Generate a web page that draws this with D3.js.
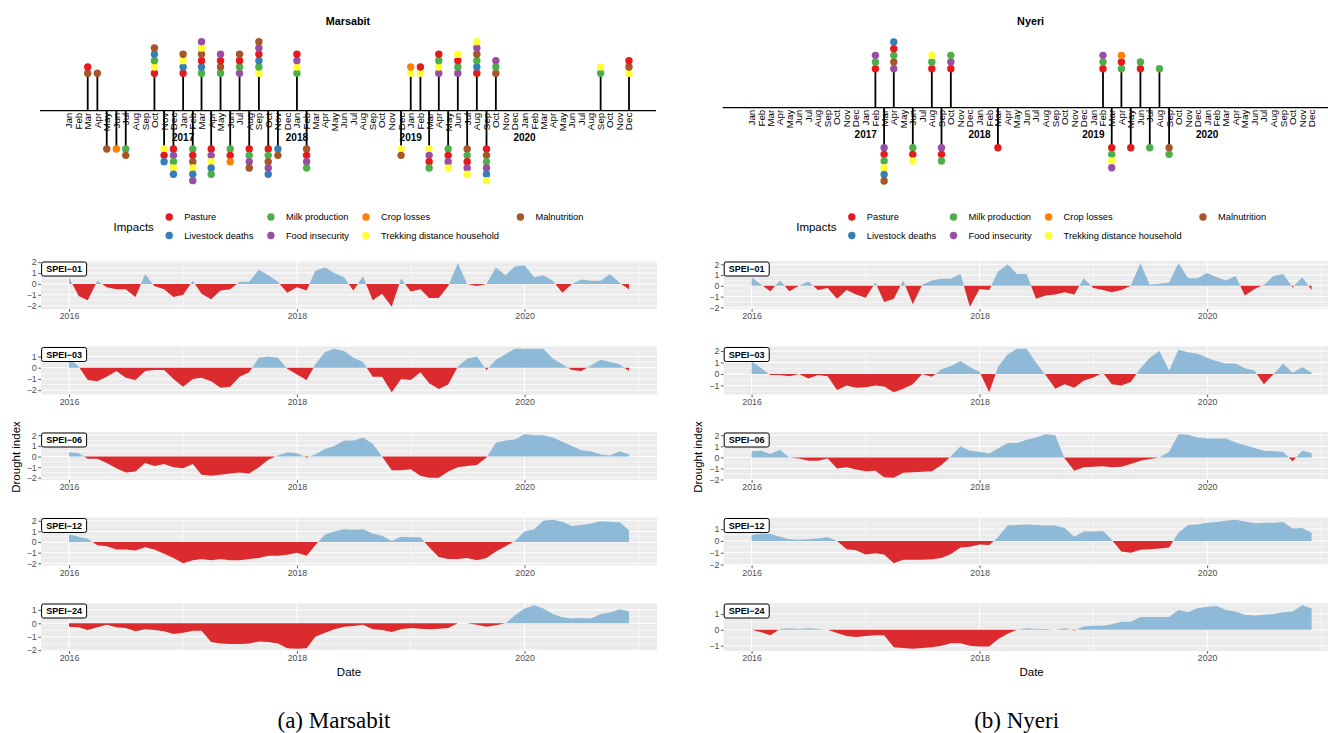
<!DOCTYPE html>
<html>
<head>
<meta charset="utf-8">
<script src="https://cdn.jsdelivr.net/npm/d3@7"></script>
<style>
  body { margin: 0; background: #fff; }
  svg { display: block; font-family: "Liberation Sans", Arial, Helvetica, sans-serif; }
</style>
</head>
<body>
<svg id="chart" width="1328" height="733"></svg>
<script>
// ---- Data ----
const monthLabels = ["Jan","Feb","Mar","Apr","May","Jun","Jul","Aug","Sep","Oct","Nov","Dec"];
const yearLabels = [2017, 2018, 2019, 2020];
const speiTickYears = [2016, 2018, 2020];
const speiMinorYears = [2015, 2017, 2019, 2021];

// impact codes, legend order
const impactCodes  = ["P", "L", "M", "F", "C", "T", "N"];
const impactNames  = ["Pasture", "Livestock deaths", "Milk production", "Food insecurity",
                      "Crop losses", "Trekking distance household", "Malnutrition"];
const impactColors = ["#E41A1C", "#377EB8", "#4DAF4A", "#984EA3", "#FF7F00", "#FFFF33", "#A65628"];

// events above the line (codes listed from the line outwards)
const marsabitUp = [
  ["2016-03","NP"], ["2016-04","N"], ["2016-10","PTMLN"], ["2017-01","PLTN"],
  ["2017-03","MLPNTF"], ["2017-05","MNPF"], ["2017-07","FMPN"], ["2017-09","TMLPFN"],
  ["2018-01","MTFP"], ["2019-01","TC"], ["2019-02","TP"], ["2019-04","FTMP"],
  ["2019-06","FMPT"], ["2019-08","PLMNFT"], ["2019-10","NMF"], ["2020-09","MT"],
  ["2020-12","TNP"]
];
// events below the line
const marsabitDown = [
  ["2016-05","N"], ["2016-06","C"], ["2016-07","MN"], ["2016-11","TPL"],
  ["2016-12","PFMTL"], ["2017-02","MPNTLF"], ["2017-04","PFTLM"], ["2017-06","MPC"],
  ["2017-08","PMFN"], ["2017-10","PMNFL"], ["2017-11","LN"], ["2018-02","NPFM"],
  ["2018-12","TN"], ["2019-03","TFPM"], ["2019-05","MPFT"], ["2019-07","NMPFT"],
  ["2019-09","PNMFLT"]
];
const nyeriUp = [
  ["2017-02","PMF"], ["2017-04","FNMPL"], ["2017-08","PMT"], ["2017-10","PFM"],
  ["2019-02","PMF"], ["2019-04","MPC"], ["2019-06","PM"], ["2019-08","M"]
];
const nyeriDown = [
  ["2017-03","FPMTLN"], ["2017-06","MPT"], ["2017-09","FPM"], ["2018-03","P"],
  ["2019-03","PMTF"], ["2019-05","P"], ["2019-07","M"], ["2019-09","NM"]
];

const speiLabels = ["SPEI\u221201", "SPEI\u221203", "SPEI\u221206", "SPEI\u221212", "SPEI\u221224"];

// monthly values Jan 2016 - Dec 2020
const marsabitSpei01 = [0.6,-1.1,-1.5,0.3,-0.3,-0.5,-0.5,-1.2,0.9,-0.2,-0.5,-1.2,
  -1.0,0.3,-0.9,-1.4,-0.6,-0.5,0.2,0.2,1.3,0.8,0.2,-0.8,
  -0.3,-0.6,1.2,1.5,1.0,0.6,-0.6,0.7,-1.5,-0.9,-2.1,0.5,
  -0.7,-0.5,-1.3,-1.3,-0.2,1.9,0.0,-0.2,0.0,1.5,0.8,1.6,
  1.7,0.6,0.8,0.3,-0.8,0.0,0.4,0.3,0.3,0.9,0.1,-0.5];
const marsabitSpei03 = [0.85,0.1,-1.1,-1.2,-0.8,-0.3,-0.9,-1.1,-0.3,-0.2,-0.2,-1.0,
  -1.7,-1.0,-0.9,-1.2,-1.8,-1.7,-0.8,-0.4,0.9,1.0,0.9,-0.1,
  -0.6,-1.1,0.3,1.4,1.7,1.5,0.9,0.5,-0.8,-0.8,-2.2,-1.0,
  -1.1,-0.4,-1.4,-1.9,-1.5,0.1,0.8,1.0,-0.2,0.7,1.2,1.7,
  1.7,1.7,1.7,0.8,0.3,-0.2,-0.3,0.2,0.7,0.5,0.3,-0.3];
const marsabitSpei06 = [0.4,0.3,-0.2,-0.2,-0.6,-1.1,-1.5,-1.4,-0.6,-0.9,-0.7,-1.0,
  -1.1,-0.7,-1.7,-1.8,-1.7,-1.6,-1.5,-1.6,-1.0,-0.3,0.1,0.4,
  0.3,-0.1,0.2,0.7,1.0,1.5,1.5,1.8,1.2,0.0,-1.3,-1.3,
  -1.2,-1.8,-2.0,-2.0,-1.4,-1.0,-0.9,-0.8,-0.1,1.3,1.5,1.6,
  2.1,2.0,2.0,1.8,1.4,1.0,0.6,0.5,0.2,0.1,0.5,0.2];
const marsabitSpei12 = [0.7,0.5,0.3,-0.3,-0.4,-0.7,-0.7,-0.8,-0.5,-0.7,-1.1,-1.5,
  -2.0,-1.7,-1.6,-1.7,-1.6,-1.7,-1.7,-1.6,-1.5,-1.3,-1.3,-1.2,
  -1.0,-1.3,-0.3,0.7,1.0,1.2,1.15,1.2,0.8,0.6,0.1,0.5,
  0.45,0.45,-0.5,-1.4,-1.6,-1.6,-1.5,-1.7,-1.5,-0.9,-0.4,0.1,
  1.0,1.2,2.0,2.1,1.9,1.5,1.6,1.75,1.95,1.9,1.85,1.1];
const marsabitSpei24 = [-0.25,-0.3,-0.5,-0.3,-0.1,-0.3,-0.35,-0.6,-0.45,-0.5,-0.6,-0.8,
  -0.7,-0.55,-0.55,-1.4,-1.5,-1.55,-1.55,-1.5,-1.35,-1.4,-1.5,-1.85,
  -1.9,-1.85,-1.0,-0.7,-0.45,-0.25,-0.2,-0.1,-0.45,-0.5,-0.65,-0.45,
  -0.35,-0.4,-0.45,-0.4,-0.35,0.0,0.0,-0.1,-0.25,-0.15,0.0,0.6,
  1.1,1.35,1.1,0.7,0.45,0.35,0.4,0.35,0.7,0.8,1.05,0.9];

const nyeriSpei01 = [0.8,0.1,-0.5,0.5,-0.5,0.0,0.4,-0.4,-0.2,-1.2,-0.4,-0.8,
  -1.1,0.3,-1.5,-1.2,0.5,-1.7,0.1,0.5,0.65,0.65,1.1,-1.95,
  -0.3,-0.4,1.3,2.0,1.1,1.1,-1.2,-0.9,-0.8,-0.6,-0.8,0.7,
  -0.2,-0.4,-0.6,-0.4,0.0,2.1,0.1,0.2,0.3,2.1,0.7,0.7,
  1.2,0.8,0.5,0.9,-0.9,-0.3,0.1,0.9,1.1,-0.15,0.8,-0.4];
const nyeriSpei03 = [1.1,0.5,-0.1,-0.1,-0.2,0.0,-0.4,-0.1,-0.2,-1.4,-1.0,-1.2,
  -1.15,-1.0,-1.1,-1.6,-1.3,-0.9,0.0,-0.25,0.4,0.7,1.1,0.6,
  0.2,-1.6,0.6,1.7,2.2,2.2,1.0,-0.1,-1.3,-0.9,-1.2,-0.6,
  -0.3,0.1,-0.9,-1.0,-0.7,0.5,1.4,2.0,0.3,2.1,1.9,1.75,
  1.4,1.1,0.9,0.9,0.5,0.3,-0.9,0.0,0.9,0.1,0.6,0.1];
const nyeriSpei06 = [0.55,0.6,0.3,0.7,0.0,-0.1,-0.3,-0.3,-0.1,-1.0,-0.9,-1.1,
  -1.25,-1.2,-1.8,-1.85,-1.4,-1.35,-1.3,-1.25,-0.7,0.1,1.0,0.6,
  0.5,0.35,0.8,1.3,1.3,1.6,1.8,2.1,2.0,-0.1,-1.2,-0.9,
  -0.85,-0.8,-0.9,-0.85,-0.6,-0.3,-0.15,0.0,0.5,2.1,2.05,1.8,
  1.7,1.7,1.7,1.35,1.1,0.85,0.6,0.55,0.5,-0.35,0.6,0.4];
const nyeriSpei12 = [0.5,0.6,0.6,0.35,0.15,0.1,0.15,0.2,0.3,0.0,-0.7,-0.8,
  -1.15,-1.05,-1.15,-1.9,-1.6,-1.6,-1.6,-1.55,-1.45,-1.1,-0.55,-0.5,
  -0.3,-0.35,0.3,1.3,1.35,1.4,1.35,1.3,1.3,1.1,0.35,0.8,
  0.8,0.85,0.1,-0.9,-1.0,-0.75,-0.7,-0.65,-0.55,0.7,1.35,1.4,
  1.55,1.6,1.7,1.8,1.65,1.5,1.55,1.55,1.6,1.05,1.1,0.7];
const nyeriSpei24 = [0.0,-0.15,-0.35,0.05,0.1,0.05,0.1,0.05,0.0,-0.2,-0.4,-0.45,
  -0.4,-0.35,-0.35,-1.1,-1.15,-1.2,-1.15,-1.1,-1.0,-0.85,-0.85,-1.0,
  -1.05,-1.05,-0.6,-0.25,0.0,0.1,0.05,0.05,0.0,0.1,-0.05,0.2,
  0.25,0.25,0.35,0.5,0.5,0.8,0.8,0.8,0.8,1.25,1.1,1.35,
  1.45,1.5,1.25,1.15,0.95,0.9,0.95,1.0,1.1,1.15,1.55,1.35];

// ---- Layout ----
const POS_COLOR = "#8ebad7";
const NEG_COLOR = "#db2b2e";
const DOT_R = 3.7;
const PANEL_TOPS = [261, 346.5, 432, 517.5, 603];
const PANEL_H = 48;

const regions = [
  { title: "Marsabit", caption: "(a) Marsabit", dx: 0,
    axisY: 110.7, upY: 73.3, downY: 149, step: 6.33,
    up: marsabitUp, down: marsabitDown,
    spei: [marsabitSpei01, marsabitSpei03, marsabitSpei06, marsabitSpei12, marsabitSpei24] },
  { title: "Nyeri", caption: "(b) Nyeri", dx: 682.6,
    axisY: 107.7, upY: 68.7, downY: 147.7, step: 6.67,
    up: nyeriUp, down: nyeriDown,
    spei: [nyeriSpei01, nyeriSpei03, nyeriSpei06, nyeriSpei12, nyeriSpei24] }
];

const svg = d3.select("#chart");
const parseMonth = d3.timeParse("%Y-%m");
const firstMonth = new Date(2016, 0, 1);
const lastMonth = new Date(2020, 11, 1);
const monthDates = d3.timeMonth.range(firstMonth, d3.timeMonth.offset(lastMonth, 1));
const pad = (lastMonth - firstMonth) * 0.05;
const colorOf = d3.scaleOrdinal().domain(impactCodes).range(impactColors);

regions.forEach(r => {
  const g = svg.append("g");
  const x = d3.scaleTime()
      .domain([new Date(+firstMonth - pad), new Date(+lastMonth + pad)])
      .range([41 + r.dx, 657 + r.dx]);

  // Title
  g.append("text")
      .attr("x", 348 + r.dx).attr("y", 25)
      .attr("text-anchor", "middle")
      .attr("font-weight", "bold").attr("font-size", 10.8)
      .text(r.title);

  // Timeline axis
  g.append("line")
      .attr("x1", 40 + r.dx).attr("x2", 656 + r.dx)
      .attr("y1", r.axisY).attr("y2", r.axisY)
      .attr("stroke", "#000").attr("stroke-width", 1.2);

  g.append("g").selectAll("text")
    .data(monthDates)
    .enter().append("text")
      .attr("transform", d => `translate(${x(d)},${r.axisY + 2}) rotate(-90)`)
      .attr("text-anchor", "end")
      .attr("dy", "0.35em")
      .attr("font-size", 9.8)
      .text(d => monthLabels[d.getMonth()]);

  g.append("g").selectAll("text")
    .data(yearLabels)
    .enter().append("text")
      .attr("x", d => x(new Date(d, 0, 1)))
      .attr("y", r.axisY + 30.5)
      .attr("text-anchor", "middle")
      .attr("font-weight", "bold").attr("font-size", 10)
      .text(d => d);

  // Stems and dots
  const events = r.up.map(e => ({ date: parseMonth(e[0]), codes: e[1].split(""), dir: -1 }))
    .concat(r.down.map(e => ({ date: parseMonth(e[0]), codes: e[1].split(""), dir: 1 })));

  g.append("g").selectAll("line")
    .data(events)
    .enter().append("line")
      .attr("x1", d => x(d.date)).attr("x2", d => x(d.date))
      .attr("y1", r.axisY)
      .attr("y2", d => d.dir < 0 ? r.upY : r.downY)
      .attr("stroke", "#000").attr("stroke-width", 1.8);

  const dots = [];
  events.forEach(e => e.codes.forEach((c, i) => {
    dots.push({ date: e.date, code: c,
      y: e.dir < 0 ? r.upY - i * r.step : r.downY + i * r.step });
  }));
  g.append("g").selectAll("circle")
    .data(dots)
    .enter().append("circle")
      .attr("cx", d => x(d.date)).attr("cy", d => d.y)
      .attr("r", DOT_R)
      .attr("fill", d => colorOf(d.code));

  // Legend
  const lg = g.append("g");
  lg.append("text")
      .attr("x", 113.6 + r.dx).attr("y", 230.6)
      .attr("font-size", 11.5)
      .text("Impacts");
  const colX = [169.2, 270.9, 366, 520.4];
  const rowY = [217, 235.5];
  impactCodes.forEach((c, i) => {
    const cx = colX[Math.floor(i / 2)] + r.dx, cy = rowY[i % 2];
    lg.append("circle").attr("cx", cx).attr("cy", cy).attr("r", DOT_R).attr("fill", colorOf(c));
    lg.append("text")
        .attr("x", cx + 15).attr("y", cy + 3.3)
        .attr("font-size", 9.3)
        .text(impactNames[i]);
  });

  // SPEI panels
  r.spei.forEach((values, k) => {
    const top = PANEL_TOPS[k], bottom = top + PANEL_H;
    const left = 41 + r.dx, right = 657 + r.dx;
    const ext = d3.extent(values);
    const span = ext[1] - ext[0];
    const y = d3.scaleLinear()
        .domain([ext[0] - 0.05 * span, ext[1] + 0.05 * span])
        .range([bottom, top]);
    const [lo, hi] = y.domain();
    const major = d3.range(Math.ceil(lo), Math.floor(hi) + 1);
    const minor = major.map(t => t + 0.5).concat([major[0] - 0.5]).filter(t => t > lo && t < hi);

    const p = g.append("g");
    p.append("rect")
        .attr("x", left).attr("y", top)
        .attr("width", right - left).attr("height", PANEL_H)
        .attr("fill", "#EBEBEB");

    // grid
    p.append("g").selectAll("line")
      .data(minor)
      .enter().append("line")
        .attr("x1", left).attr("x2", right)
        .attr("y1", d => y(d)).attr("y2", d => y(d))
        .attr("stroke", "#fff").attr("stroke-width", 0.5);
    p.append("g").selectAll("line")
      .data(speiMinorYears.map(v => new Date(v, 0, 1)).filter(d => x(d) > left && x(d) < right))
      .enter().append("line")
        .attr("x1", d => x(d)).attr("x2", d => x(d))
        .attr("y1", top).attr("y2", bottom)
        .attr("stroke", "#fff").attr("stroke-width", 0.5);
    p.append("g").selectAll("line")
      .data(major)
      .enter().append("line")
        .attr("x1", left).attr("x2", right)
        .attr("y1", d => y(d)).attr("y2", d => y(d))
        .attr("stroke", "#fff").attr("stroke-width", 1);
    p.append("g").selectAll("line")
      .data(speiTickYears.map(v => new Date(v, 0, 1)))
      .enter().append("line")
        .attr("x1", d => x(d)).attr("x2", d => x(d))
        .attr("y1", top).attr("y2", bottom)
        .attr("stroke", "#fff").attr("stroke-width", 1);

    // points with zero crossings
    const pts = [];
    values.forEach((v, i) => {
      const d = monthDates[i];
      if (i > 0) {
        const pv = values[i - 1];
        if (pv * v < 0) {
          const pd = monthDates[i - 1];
          const f = pv / (pv - v);
          pts.push({ date: new Date(+pd + (d - pd) * f), v: 0 });
        }
      }
      pts.push({ date: d, v: v });
    });

    p.append("path")
        .datum(pts)
        .attr("fill", POS_COLOR)
        .attr("d", d3.area().x(d => x(d.date)).y0(y(0)).y1(d => y(Math.max(d.v, 0))));
    p.append("path")
        .datum(pts)
        .attr("fill", NEG_COLOR)
        .attr("d", d3.area().x(d => x(d.date)).y0(y(0)).y1(d => y(Math.min(d.v, 0))));

    // axes
    const ya = p.append("g")
        .attr("transform", `translate(${left},0)`)
        .call(d3.axisLeft(y).tickValues(major).tickSize(2.75).tickPadding(1.5).tickFormat(d3.format("d")));
    const xa = p.append("g")
        .attr("transform", `translate(0,${bottom})`)
        .call(d3.axisBottom(x).tickValues(speiTickYears.map(v => new Date(v, 0, 1)))
          .tickSize(2.75).tickPadding(1.5).tickFormat(d3.timeFormat("%Y")));
    [ya, xa].forEach(a => {
      a.select(".domain").remove();
      a.selectAll(".tick line").attr("stroke", "#333").attr("stroke-width", 0.8);
      a.selectAll(".tick text")
          .attr("fill", "#4D4D4D")
          .attr("font-size", 8.8)
          .attr("font-family", "Liberation Sans, Arial, sans-serif");
    });

    // facet label
    p.append("rect")
        .attr("x", left + 0.6).attr("y", top + 1)
        .attr("width", 45).attr("height", 14).attr("rx", 2)
        .attr("fill", "#fff").attr("stroke", "#000").attr("stroke-width", 1);
    p.append("text")
        .attr("x", left + 23.1).attr("y", top + 11.3)
        .attr("text-anchor", "middle")
        .attr("font-weight", "bold").attr("font-size", 9)
        .text(speiLabels[k]);
  });

  // axis titles
  g.append("text")
      .attr("transform", `translate(${15.5 + r.dx},457) rotate(-90)`)
      .attr("text-anchor", "middle")
      .attr("dy", "0.35em")
      .attr("font-size", 11.5)
      .text("Drought index");
  g.append("text")
      .attr("x", 349 + r.dx).attr("y", 675.5)
      .attr("text-anchor", "middle")
      .attr("font-size", 11.5)
      .text("Date");

  // caption
  g.append("text")
      .attr("x", 334 + r.dx).attr("y", 728)
      .attr("text-anchor", "middle")
      .attr("font-family", "Liberation Serif, Times New Roman, serif")
      .attr("font-size", 23)
      .text(r.caption);
});
</script>
</body>
</html>
